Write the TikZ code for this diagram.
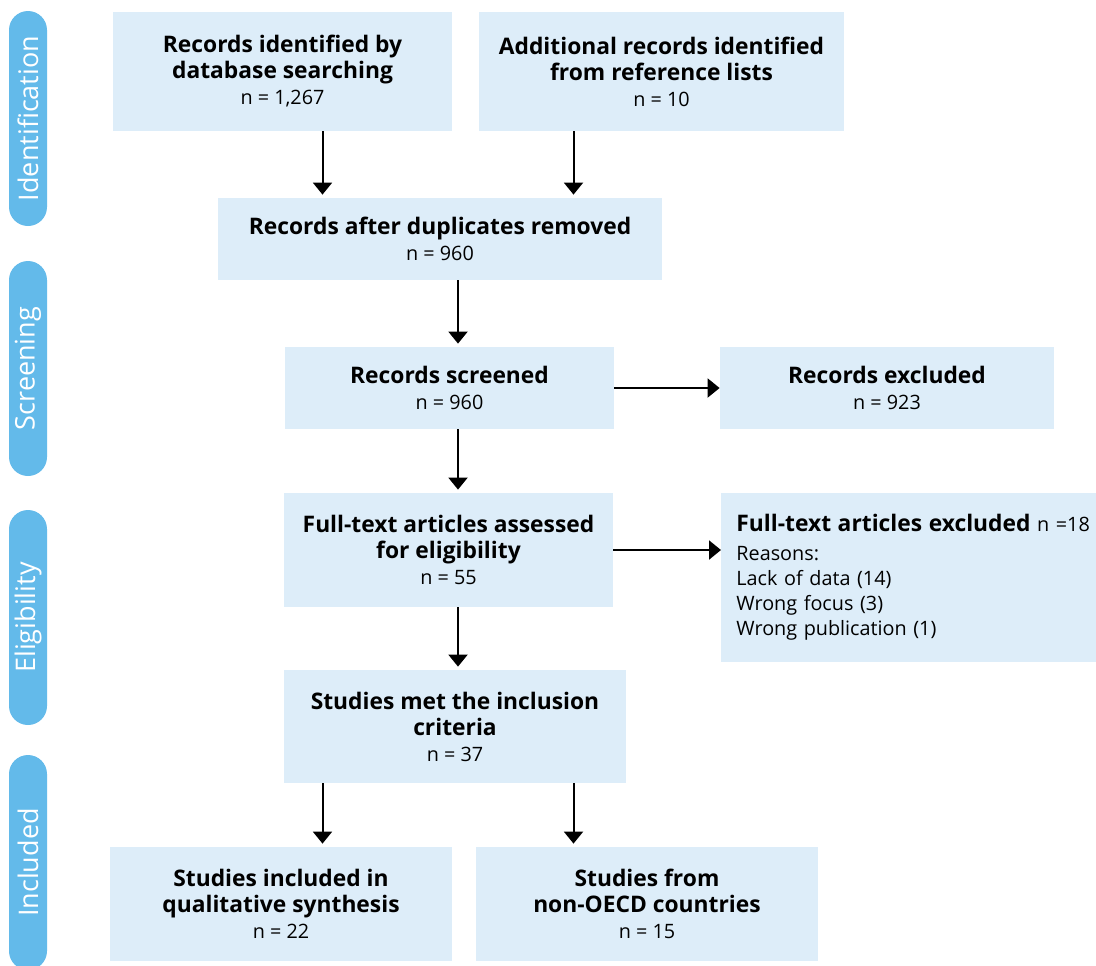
\documentclass[tikz,border=0pt]{standalone}
\usepackage{fontspec}
\setmainfont{Open Sans}
\usetikzlibrary{arrows.meta,positioning}
\definecolor{boxfill}{RGB}{221,237,249}
\definecolor{tabblue}{RGB}{99,186,234}
\newcommand{\hd}[1]{{\fontsize{11.4}{13}\selectfont\bfseries #1}}

\begin{document}
\begin{tikzpicture}[
  x=0.5pt, y=-0.5pt,
  font=\fontsize{9.9}{13}\selectfont,
  box/.style={fill=boxfill, align=center, inner sep=0pt},
  phase/.style={fill=tabblue, text=white, rounded corners=9.5pt, minimum width=107.5pt, minimum height=19pt, rotate=90, inner sep=0pt, font=\fontsize{13.5}{16}\selectfont},
  arrow/.style={-{Triangle[width=9.5pt,length=6pt]}, line width=1pt},
  down/.style={arrow, shorten >=1.5pt}
]
\clip (0,0) rectangle (1096,965);
% phase tabs
\node[phase] (tabid) at (28,118.5) {Identification};
\node[phase] (tabscr) at (28,368.5) {Screening};
\node[phase] (tabelig) at (28,617.5) {Eligibility};
\node[phase] (tabincl) at (28,862.5) {Included};
% columns for the arrows
\coordinate (colL) at (322.5,0);
\coordinate (colM) at (458,0);
\coordinate (colR) at (573.5,0);
% boxes
\node[box, minimum width=169.5pt, minimum height=59.5pt] (dbsearch) at (282.5,71.5) {\hd{Records identified by}\\\hd{database searching}\\n = 1,267};
\node[box, minimum width=182.5pt, minimum height=59.5pt] (reflists) at (661.5,71.5) {\hd{Additional records identified}\\\hd{from reference lists}\\n = 10};
\node[box, minimum width=222pt, minimum height=41pt] (dedup) at (440,239) {\hd{Records after duplicates removed}\\n = 960};
\node[box, minimum width=164.5pt, minimum height=41pt] (screened) at (449.5,388) {\hd{Records screened}\\n = 960};
\node[box, minimum width=167pt, minimum height=41pt] (recexcl) at (887,388) {\hd{Records excluded}\\n = 923};
\node[box, minimum width=164.5pt, minimum height=57pt] (fulltext) at (448.5,550) {\hd{Full-text articles assessed}\\\hd{for eligibility}\\n = 55};
\node[box, anchor=west, align=left, font=\fontsize{9.9}{12.5}\selectfont, inner xsep=7.5pt, text width=182pt, minimum height=84.5pt] (ftexcl) at (721,577.5) {\hd{Full-text articles excluded} n =18\\[2pt]Reasons:\\Lack of data (14)\\Wrong focus (3)\\Wrong publication (1)};
\node[box, minimum width=171pt, minimum height=56.5pt] (incl) at (455,726.5) {\hd{Studies met the inclusion}\\\hd{criteria}\\n = 37};
\node[box, minimum width=171pt, minimum height=57pt] (qual) at (281,904) {\hd{Studies included in}\\\hd{qualitative synthesis}\\n = 22};
\node[box, minimum width=171pt, minimum height=57pt] (nonoecd) at (647,904) {\hd{Studies from}\\\hd{non-OECD countries}\\n = 15};
% connectors
\draw[down] (dbsearch.south -| colL) -- (dedup.north -| colL);
\draw[down] (reflists.south -| colR) -- (dedup.north -| colR);
\draw[down] (dedup.south -| colM) -- (screened.north -| colM);
\draw[arrow] (screened.east) -- (recexcl.west);
\draw[down] (screened.south -| colM) -- (fulltext.north -| colM);
\draw[arrow] (fulltext.east) -- (ftexcl.west |- fulltext.east);
\draw[down] (fulltext.south -| colM) -- (incl.north -| colM);
\draw[down] (incl.south -| colL) -- (qual.north -| colL);
\draw[down] (incl.south -| colR) -- (nonoecd.north -| colR);
\end{tikzpicture}
\end{document}
